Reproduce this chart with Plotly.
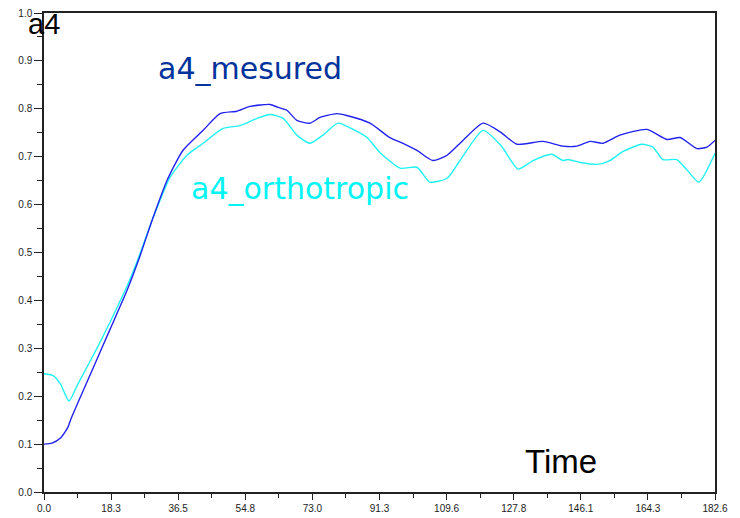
import plotly.graph_objects as go

# ---- data ----
t_measured = [0, 2.2, 4.4, 6.5, 7.3, 10, 14, 18, 22.6, 26, 29.4, 33.5, 37.8, 43.3, 47.9,
              52.5, 56.1, 61.5, 63.7, 66.1, 68.8, 72.4, 75.1, 79.7, 82.4, 88.7, 94.1, 97.7,
              101.5, 105.8, 109.7, 114.0, 119.5, 124.1, 128.7, 135.8, 141.2, 145.0, 148.6,
              152.1, 156.7, 164.1, 169.5, 173.1, 177.7, 180.4, 182.6]
a4_measured = [0.100, 0.102, 0.112, 0.135, 0.152, 0.200, 0.270, 0.340, 0.421, 0.490, 0.567,
               0.651, 0.713, 0.755, 0.790, 0.795, 0.805, 0.809, 0.803, 0.797, 0.776, 0.770,
               0.782, 0.790, 0.786, 0.770, 0.740, 0.728, 0.713, 0.692, 0.703, 0.734, 0.770,
               0.752, 0.726, 0.732, 0.722, 0.722, 0.732, 0.728, 0.745, 0.757, 0.736, 0.740,
               0.717, 0.720, 0.734]

t_ortho = [0, 2.5, 4.5, 6.8, 9, 14.4, 18, 22.6, 26, 29.4, 34.3, 38.9, 43.3, 48.7, 53.3,
           58.0, 61.5, 65.1, 68.8, 72.4, 75.9, 80.0, 84.1, 87.9, 91.4, 96.9, 101.5, 105.0,
           109.7, 113.2, 119.5, 124.5, 129.0, 133.1, 138.2, 141.2, 142.6, 145.9, 150.5,
           154.0, 157.6, 162.7, 165.7, 168.4, 172.2, 175.0, 178.2, 182.6]
a4_ortho = [0.247, 0.243, 0.225, 0.190, 0.222, 0.300, 0.355, 0.430, 0.495, 0.567, 0.657,
            0.703, 0.728, 0.759, 0.765, 0.780, 0.788, 0.780, 0.745, 0.728, 0.745, 0.770,
            0.757, 0.740, 0.709, 0.676, 0.678, 0.647, 0.655, 0.692, 0.755, 0.722, 0.674,
            0.692, 0.705, 0.692, 0.694, 0.688, 0.684, 0.692, 0.711, 0.726, 0.720, 0.694,
            0.694, 0.672, 0.647, 0.707]

x_tick_vals = [0, 18.26, 36.52, 54.78, 73.04, 91.3, 109.56, 127.82, 146.08, 164.34, 182.6]
x_tick_text = ["0.0", "18.3", "36.5", "54.8", "73.0", "91.3", "109.6", "127.8", "146.1", "164.3", "182.6"]
y_tick_vals = [0.0, 0.1, 0.2, 0.3, 0.4, 0.5, 0.6, 0.7, 0.8, 0.9, 1.0]
y_tick_text = ["0.0", "0.1", "0.2", "0.3", "0.4", "0.5", "0.6", "0.7", "0.8", "0.9", "1.0"]

fig = go.Figure()
fig.add_trace(go.Scatter(x=t_ortho, y=a4_ortho, mode="lines",
                         line=dict(color="#1ef2f2", width=1.4, shape="spline", smoothing=0.6),
                         name="a4_orthotropic", showlegend=False, hoverinfo="skip"))
fig.add_trace(go.Scatter(x=t_measured, y=a4_measured, mode="lines",
                         line=dict(color="#2222ee", width=1.4, shape="spline", smoothing=0.6),
                         name="a4_mesured", showlegend=False, hoverinfo="skip"))

tickfont = dict(family="Liberation Sans", size=10, color="#222222")
fig.update_xaxes(range=[0, 182.6], tickmode="array", tickvals=x_tick_vals, ticktext=x_tick_text,
                 ticks="outside", ticklen=6, tickwidth=1, tickcolor="#222", automargin=False,
                 showline=True, linecolor="#222", linewidth=1.5, mirror=True,
                 showgrid=False, zeroline=False, tickfont=tickfont,
                 minor=dict(tick0=0, dtick=9.13, ticks="outside", ticklen=4, tickcolor="#222"))
fig.update_yaxes(range=[0, 1.0], tickmode="array", tickvals=y_tick_vals, ticktext=y_tick_text,
                 ticks="outside", ticklen=8, tickwidth=1, tickcolor="#222", automargin=False,
                 showline=True, linecolor="#222", linewidth=1.5, mirror=True,
                 showgrid=False, zeroline=False, tickfont=tickfont,
                 minor=dict(tick0=0, dtick=0.05, ticks="outside", ticklen=5, tickcolor="#222"))

fig.update_layout(
    width=740, height=518,
    margin=dict(l=44, r=25, t=13, b=26),
    plot_bgcolor="white", paper_bgcolor="white",
    annotations=[
        dict(text="a4_mesured", x=56.1, y=0.884, xref="x", yref="y", showarrow=False,
             font=dict(family="DejaVu Sans", size=30, color="#00339c"), xanchor="center", yanchor="middle"),
        dict(text="a4_orthotropic", x=69.8, y=0.634, xref="x", yref="y", showarrow=False,
             font=dict(family="DejaVu Sans", size=30, color="#00f5f5"), xanchor="center", yanchor="middle"),
        dict(text="Time", x=140.7, y=0.063, xref="x", yref="y", showarrow=False,
             font=dict(family="Liberation Sans", size=33, color="#000000"), xanchor="center", yanchor="middle"),
        dict(text="a4", x=0.0, y=0.977, xref="paper", yref="paper", showarrow=False,
             font=dict(family="Liberation Sans", size=29, color="#000000"), xanchor="center", yanchor="middle"),
    ],
)

fig.write_html("out.html", config={"displayModeBar": False},
               post_script="document.body.style.margin='0';document.body.style.overflow='hidden';")
